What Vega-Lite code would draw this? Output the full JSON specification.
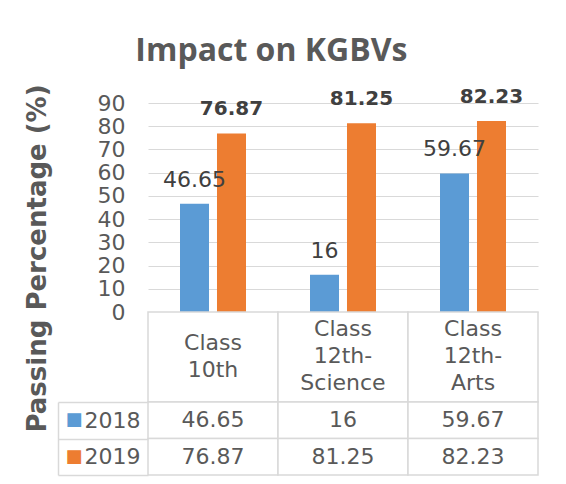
{
  "$schema": "https://vega.github.io/schema/vega-lite/v6.json",
  "autosize": {"type": "none"},
  "padding": {"left": 148, "top": 103, "right": 418, "bottom": 381},
  "background": "white",
  "title": {
    "text": "Impact on KGBVs",
    "font": "Open Sans",
    "fontSize": 32,
    "fontWeight": "bold",
    "color": "#595959",
    "anchor": "middle",
    "dx": -10,
    "offset": 16
  },
  "datasets": {
    "scores": [
      {"cls": "Class 10th", "head": "Class\n10th", "year": "2018", "pct": 46.65},
      {"cls": "Class 10th", "head": "Class\n10th", "year": "2019", "pct": 76.87},
      {"cls": "Class 12th-Science", "head": "Class\n12th-\nScience", "year": "2018", "pct": 16},
      {"cls": "Class 12th-Science", "head": "Class\n12th-\nScience", "year": "2019", "pct": 81.25},
      {"cls": "Class 12th-Arts", "head": "Class\n12th-\nArts", "year": "2018", "pct": 59.67},
      {"cls": "Class 12th-Arts", "head": "Class\n12th-\nArts", "year": "2019", "pct": 82.23}
    ]
  },
  "bounds": "flush",
  "spacing": 0,
  "vconcat": [
    {
      "width": 390,
      "height": 209,
      "data": {"name": "scores"},
      "encoding": {
        "x": {"field": "cls", "type": "nominal", "sort": ["Class 10th", "Class 12th-Science", "Class 12th-Arts"], "scale": {"paddingInner": 0, "paddingOuter": 0}, "axis": null},
        "xOffset": {"field": "year", "type": "nominal", "scale": {"paddingInner": 0.216, "paddingOuter": 0.865}},
        "y": {
          "field": "pct", "type": "quantitative",
          "scale": {"domain": [0, 90], "nice": false},
          "axis": {
            "title": "Passing Percentage (%)",
            "titleFont": "DejaVu Sans",
            "titleFontSize": 26,
            "titleFontWeight": "bold",
            "titleColor": "#595959",
            "titleAngle": -90,
            "titleBaseline": "alphabetic",
            "titleAlign": "center",
            "titleX": -103,
            "titleY": 155,
            "values": [0, 10, 20, 30, 40, 50, 60, 70, 80, 90],
            "labelFontSize": 22,
            "labelColor": "#595959",
            "labelPadding": 23,
            "ticks": false,
            "domain": false,
            "grid": true,
            "gridColor": "#d9d9d9",
            "gridWidth": 1
          }
        }
      },
      "layer": [
        {
          "mark": {"type": "bar"},
          "encoding": {
            "color": {"field": "year", "type": "nominal", "scale": {"domain": ["2018", "2019"], "range": ["#5b9bd5", "#ed7d31"]}, "legend": null}
          }
        },
        {
          "transform": [{"filter": "datum.year == '2018'"}],
          "mark": {"type": "text", "baseline": "middle", "dy": -24, "fontSize": 22, "color": "#404040"},
          "encoding": {"text": {"field": "pct", "type": "nominal"}}
        },
        {
          "transform": [{"filter": "datum.year == '2019'"}],
          "mark": {"type": "text", "baseline": "middle", "dy": -24, "fontSize": 20, "fontWeight": "bold", "color": "#404040"},
          "encoding": {"text": {"field": "pct", "type": "nominal"}}
        }
      ]
    },
    {
      "width": 390,
      "height": 90,
      "data": {"name": "scores"},
      "transform": [{"filter": "datum.year == '2018'"}],
      "encoding": {
        "x": {"field": "cls", "type": "nominal", "sort": ["Class 10th", "Class 12th-Science", "Class 12th-Arts"], "scale": {"paddingInner": 0, "paddingOuter": 0}, "axis": null}
      },
      "layer": [
        {"mark": {"type": "rect", "fill": "white", "stroke": "#d9d9d9", "strokeWidth": 1.5}},
        {
          "transform": [{"filter": "datum.cls == 'Class 10th'"}],
          "mark": {"type": "text", "fontSize": 22, "color": "#595959", "lineBreak": "\n", "lineHeight": 27, "baseline": "middle", "dy": -14},
          "encoding": {"text": {"field": "head", "type": "nominal"}}
        },
        {
          "transform": [{"filter": "datum.cls != 'Class 10th'"}],
          "mark": {"type": "text", "fontSize": 22, "color": "#595959", "lineBreak": "\n", "lineHeight": 27, "baseline": "middle", "dy": -28},
          "encoding": {"text": {"field": "head", "type": "nominal"}}
        }
      ]
    },
    {
      "width": 390,
      "height": 73,
      "data": {"name": "scores"},
      "encoding": {
        "x": {"field": "cls", "type": "nominal", "sort": ["Class 10th", "Class 12th-Science", "Class 12th-Arts"], "scale": {"paddingInner": 0, "paddingOuter": 0}, "axis": null},
        "y": {"field": "year", "type": "nominal", "scale": {"paddingInner": 0, "paddingOuter": 0}}
      },
      "layer": [
        {
          "mark": {"type": "rect", "fill": "white", "stroke": "#d9d9d9", "strokeWidth": 1.5},
          "encoding": {
            "y": {"field": "year", "type": "nominal", "scale": {"paddingInner": 0, "paddingOuter": 0},
              "axis": {"orient": "left", "title": null, "domain": false, "tickBand": "extent", "tickSize": 90, "tickColor": "#d9d9d9", "tickWidth": 1.5, "labelPadding": -82, "labelFontSize": 22, "labelColor": "#595959", "labelBaseline": "middle"}}
          }
        },
        {
          "mark": {"type": "text", "fontSize": 22, "color": "#595959", "baseline": "middle"},
          "encoding": {
            "text": {"field": "pct", "type": "nominal"},
            "y": {"field": "year", "type": "nominal", "scale": {"paddingInner": 0, "paddingOuter": 0},
              "axis": {"orient": "left", "title": null, "offset": 90, "domain": true, "domainColor": "#d9d9d9", "domainWidth": 1.5, "ticks": false, "labelExpr": "'■'", "labelAlign": "left", "labelPadding": -7, "labelFontSize": 18, "labelFont": "DejaVu Sans", "labelColor": {"condition": {"test": "datum.value == '2018'", "value": "#5b9bd5"}, "value": "#ed7d31"}}}
          }
        }
      ],
      "resolve": {"axis": {"y": "independent"}}
    }
  ],
  "config": {
    "view": {"stroke": null},
    "font": "DejaVu Sans"
  }
}
